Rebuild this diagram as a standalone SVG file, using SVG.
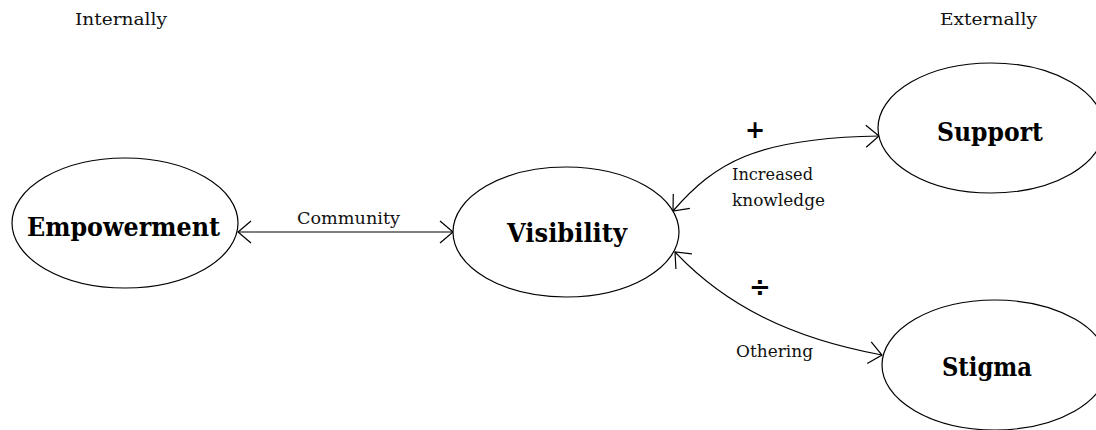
<svg xmlns="http://www.w3.org/2000/svg" width="1096" height="430" viewBox="0 0 1096 430">
<defs>
<style>
.node{fill:#fff;stroke:#000;stroke-width:1.2}
.title{font-family:"DejaVu Serif","Liberation Serif",serif;font-weight:bold;font-size:26px;fill:#000}
.lbl{font-family:"DejaVu Serif","Liberation Serif",serif;font-size:16.5px;fill:#111}
.sym{font-family:"DejaVu Sans","Liberation Sans",sans-serif;font-weight:bold;fill:#000}
.conn{fill:none;stroke:#000;stroke-width:1.2}
</style>
<marker id="arr" markerUnits="userSpaceOnUse" markerWidth="30" markerHeight="30" viewBox="-15 -15 30 30" refX="0" refY="0" orient="auto-start-reverse" overflow="visible">
<path d="M-13,-11 L0,0 L-13,11" fill="none" stroke="#000" stroke-width="1.2"/>
</marker>
</defs>
<rect width="1096" height="430" fill="#fff"/>
<text class="lbl" x="75" y="25" textLength="92" lengthAdjust="spacingAndGlyphs">Internally</text>
<text class="lbl" x="940" y="25" textLength="97" lengthAdjust="spacingAndGlyphs">Externally</text>
<g id="connectors">
<path class="conn" d="M238,232 L453,232" marker-start="url(#arr)" marker-end="url(#arr)"/>
<path class="conn" d="M673,211 C715,163 755,138 879,136" marker-start="url(#arr)" marker-end="url(#arr)"/>
<path class="conn" d="M675,252 C725,305 790,338 882,355" marker-start="url(#arr)" marker-end="url(#arr)"/>
<text class="lbl" x="297" y="224" textLength="103" lengthAdjust="spacingAndGlyphs">Community</text>
<text class="lbl" x="732" y="180" textLength="81" lengthAdjust="spacingAndGlyphs">Increased</text>
<text class="lbl" x="732" y="206" textLength="93" lengthAdjust="spacingAndGlyphs">knowledge</text>
<text class="lbl" x="736" y="357" textLength="77" lengthAdjust="spacingAndGlyphs">Othering</text>
<text class="sym" x="755" y="138" text-anchor="middle" font-size="24">+</text>
<text class="sym" x="760" y="296" text-anchor="middle" font-size="26">÷</text>
</g>
<g id="empowerment">
<ellipse class="node" cx="125" cy="223" rx="113" ry="65"/>
<text class="title" x="27" y="236" textLength="193" lengthAdjust="spacingAndGlyphs">Empowerment</text>
</g>
<g id="visibility">
<ellipse class="node" cx="566" cy="232" rx="113" ry="65"/>
<text class="title" x="507" y="242" textLength="120" lengthAdjust="spacingAndGlyphs">Visibility</text>
</g>
<g id="support">
<ellipse class="node" cx="991" cy="128" rx="113" ry="65"/>
<text class="title" x="937" y="141" textLength="106" lengthAdjust="spacingAndGlyphs">Support</text>
</g>
<g id="stigma">
<ellipse class="node" cx="995" cy="365" rx="113" ry="65"/>
<text class="title" x="942" y="376" textLength="90" lengthAdjust="spacingAndGlyphs">Stigma</text>
</g>
</svg>
